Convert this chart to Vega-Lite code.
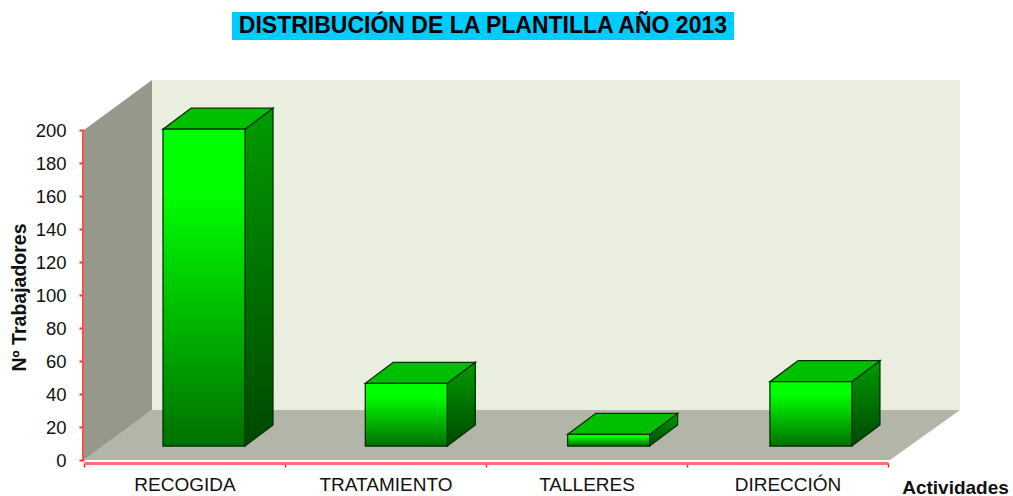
{
"$schema":"https://vega.github.io/schema/vega-lite/v6.json",
"width":929,"height":460,
"autosize":"none",
"padding":{"left":84,"top":0,"right":0,"bottom":36},
"background":"white",
"config":{"view":{"stroke":null},"font":"Liberation Sans"},
"datasets":{
"plantilla":[{"actividad":"RECOGIDA","orden":0,"valor":192},{"actividad":"TRATAMIENTO","orden":1,"valor":38},{"actividad":"TALLERES","orden":2,"valor":7},{"actividad":"DIRECCIÓN","orden":3,"valor":39}]
},
"layer":[
{"resolve":{"scale":{"x":"shared","y":"shared"},"axis":{"x":"shared","y":"shared"}},
 "layer":[
{"data":{"values":[{"a":0.7316,"b":3.213,"c":254.5,"d":271.5}]},
 "mark":{"type":"rect","fill":"#00CCFF"},
 "encoding":{"x":{"field":"a","type":"quantitative","scale":{"domain":[0,4.592],"range":[0,929],"nice":false,"zero":false},"axis":null},"x2":{"field":"b"},"y":{"field":"c","type":"quantitative","scale":{"domain":[0,278.79],"nice":false,"zero":false},
   "axis":{"values":[0,20,40,60,80,100,120,140,160,180,200],"domain":false,"grid":false,"ticks":true,"tickColor":"#FF3030","tickSize":5,"tickWidth":2,"labelFontSize":18.5,"labelColor":"#111111","labelPadding":13,"labelFont":"Liberation Sans","title":"Nº Trabajadores","titleFontSize":19.5,"titleFont":"Liberation Sans","titleFontWeight":"bold","titleColor":"#111111","titleX":-65,"titleY":297,"titleAngle":-90,"titleAlign":"center","titleBaseline":"middle"}},"y2":{"field":"d"}}},
{"data":{"values":[{"t":"DISTRIBUCIÓN DE LA PLANTILLA AÑO 2013","a":1.972,"c":263}]},
 "mark":{"type":"text","fontSize":23,"fontWeight":"bold","color":"#000000","align":"center","baseline":"middle","font":"Liberation Sans"},
 "encoding":{"x":{"field":"a","type":"quantitative","axis":null},"y":{"field":"c","type":"quantitative"},"text":{"field":"t"}}},
{"data":{"values":[{"a":0.3361,"b":4.33,"c":30.3,"d":230.3}]},
 "mark":{"type":"rect","fill":"#E9EEDE"},
 "encoding":{"x":{"field":"a","type":"quantitative","axis":null},"x2":{"field":"b"},"y":{"field":"c","type":"quantitative"},"y2":{"field":"d"}}},
{"data":{"values":[{"a":0,"b":3.984,"c":0},{"a":0.3361,"b":4.33,"c":30.3}]},
 "mark":{"type":"area","orient":"horizontal","fill":"#B2B5A8"},
 "encoding":{"x":{"field":"a","type":"quantitative","axis":null},"x2":{"field":"b"},"y":{"field":"c","type":"quantitative"}}},
{"data":{"values":[{"a":0,"c":0,"d":200},{"a":0.3361,"c":30.3,"d":230.3}]},
 "mark":{"type":"area","fill":"#96988C"},
 "encoding":{"x":{"field":"a","type":"quantitative","axis":null},"y":{"field":"c","type":"quantitative"},"y2":{"field":"d"}}},
{"data":{"values":[{"a":-0.005,"c":0,"d":200}]},
 "mark":{"type":"rule","stroke":"#FF5050","strokeWidth":2},
 "encoding":{"x":{"field":"a","type":"quantitative","axis":null},"y":{"field":"c","type":"quantitative"},"y2":{"field":"d"}}},
{"data":{"name":"plantilla"},
 "transform":[{"calculate":"[0,1]","as":"prof"},{"flatten":["prof"]},{"calculate":"datum.orden+0.7958+datum.prof*0.1384","as":"sx"},{"calculate":"datum.valor+8.5+datum.prof*12.7","as":"sy"},{"calculate":"8.5+datum.prof*12.7","as":"sy2"}],
 "mark":{"type":"area","stroke":"#003300","strokeWidth":1.3,"fill":{"gradient":"linear","x1":0,"y1":0,"x2":0,"y2":1,"stops":[{"offset":0,"color":"#009C00"},{"offset":1,"color":"#004800"}]}},
 "encoding":{"detail":{"field":"actividad"},"x":{"field":"sx","type":"quantitative","axis":null},"y":{"field":"sy","type":"quantitative"},"y2":{"field":"sy2"}}},
{"data":{"name":"plantilla"},
 "transform":[{"calculate":"[0,1]","as":"prof"},{"flatten":["prof"]},{"calculate":"datum.orden+0.3905+datum.prof*0.1384","as":"tx"},{"calculate":"datum.orden+0.7958+datum.prof*0.1384","as":"tx2"},{"calculate":"datum.valor+8.5+datum.prof*12.7","as":"ty"}],
 "mark":{"type":"area","orient":"horizontal","fill":"#00BE00","stroke":"#003300","strokeWidth":1.3},
 "encoding":{"detail":{"field":"actividad"},"x":{"field":"tx","type":"quantitative","axis":null},"x2":{"field":"tx2"},"y":{"field":"ty","type":"quantitative"}}},
{"data":{"name":"plantilla"},
 "transform":[{"calculate":"datum.orden+0.3905","as":"fx"},{"calculate":"datum.orden+0.7958","as":"fx2"},{"calculate":"datum.valor+8.5","as":"fy"},{"calculate":"8.5","as":"fy2"}],
 "mark":{"type":"rect","stroke":"#003300","strokeWidth":1.3,"fill":{"gradient":"linear","x1":0,"y1":0,"x2":0,"y2":1,"stops":[{"offset":0,"color":"#00FF00"},{"offset":0.2,"color":"#00FF00"},{"offset":1,"color":"#007000"}]}},
 "encoding":{"x":{"field":"fx","type":"quantitative","axis":null},"x2":{"field":"fx2"},"y":{"field":"fy","type":"quantitative"},"y2":{"field":"fy2"}}}
 ]},
{"data":{"name":"plantilla"},
 "mark":{"type":"rule","opacity":0},
 "encoding":{"x":{"field":"actividad","type":"nominal","sort":null,"scale":{"type":"band","range":[0,804],"paddingInner":0,"paddingOuter":0},
  "axis":{"orient":"bottom","offset":3,"domainColor":"#FF7070","domainWidth":3,"tickBand":"extent","tickColor":"#E02020","tickSize":4,"tickWidth":1.5,"labelAngle":0,"labelFontSize":19,"labelColor":"#111111","labelPadding":8,"labelFont":"Liberation Sans","title":"Actividades","titleFontSize":19,"titleFont":"Liberation Sans","titleFontWeight":"bold","titleColor":"#111111","titleX":871,"titleY":24,"titleAlign":"center","titleBaseline":"middle"}}}}
],
"resolve":{"scale":{"x":"independent"},"axis":{"x":"independent"}}
}
